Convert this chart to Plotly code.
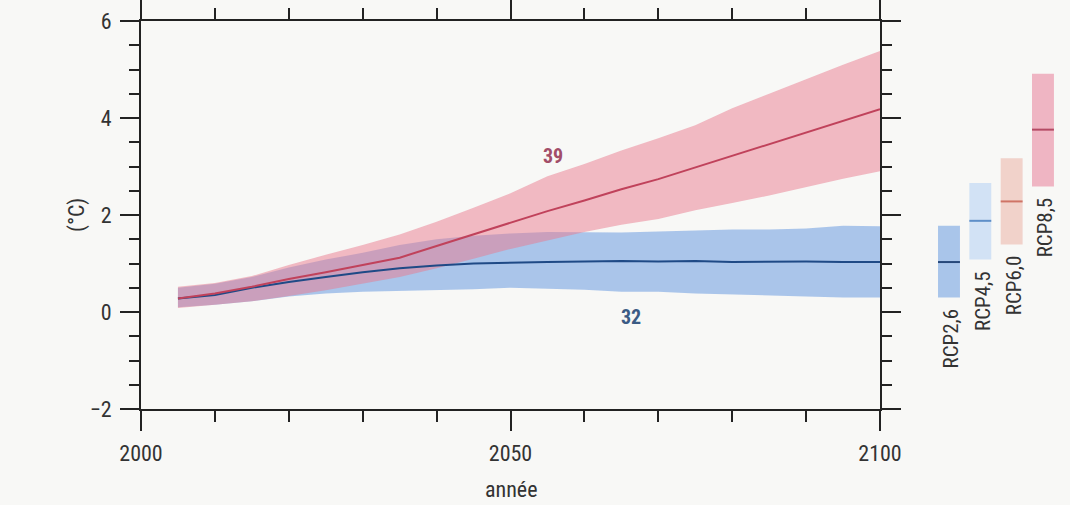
import plotly.graph_objects as go

# ---------------- data ----------------
years = [2005, 2010, 2015, 2020, 2025, 2030, 2035, 2040, 2045, 2050,
         2055, 2060, 2065, 2070, 2075, 2080, 2085, 2090, 2095, 2100]

rcp85_mean = [0.28, 0.38, 0.52, 0.68, 0.82, 0.97, 1.12, 1.36, 1.60, 1.85,
              2.08, 2.30, 2.53, 2.74, 2.98, 3.22, 3.46, 3.70, 3.94, 4.18]
rcp85_high = [0.52, 0.60, 0.74, 0.97, 1.18, 1.38, 1.60, 1.86, 2.15, 2.45,
              2.80, 3.05, 3.33, 3.58, 3.85, 4.20, 4.50, 4.80, 5.10, 5.38]
rcp85_low = [0.08, 0.15, 0.22, 0.33, 0.45, 0.58, 0.72, 0.90, 1.10, 1.30,
             1.48, 1.65, 1.80, 1.92, 2.10, 2.25, 2.40, 2.58, 2.75, 2.90]

rcp26_mean = [0.28, 0.35, 0.50, 0.62, 0.72, 0.82, 0.90, 0.96, 1.00, 1.02,
              1.03, 1.04, 1.05, 1.04, 1.05, 1.03, 1.04, 1.04, 1.03, 1.03]
rcp26_high = [0.50, 0.58, 0.72, 0.92, 1.08, 1.22, 1.38, 1.50, 1.57, 1.62,
              1.65, 1.65, 1.64, 1.66, 1.68, 1.70, 1.70, 1.72, 1.78, 1.77]
rcp26_low = [0.10, 0.15, 0.22, 0.32, 0.38, 0.42, 0.44, 0.45, 0.47, 0.50,
             0.48, 0.46, 0.42, 0.42, 0.38, 0.35, 0.34, 0.32, 0.30, 0.30]

# side bars: 2081-2100 ranges
scenarios = ["RCP2,6", "RCP4,5", "RCP6,0", "RCP8,5"]
bar_low = [0.30, 1.08, 1.39, 2.59]
bar_high = [1.78, 2.66, 3.17, 4.91]
bar_mean = [1.03, 1.88, 2.28, 3.76]

count_labels = ["39", "32"]
count_x = [2055.8, 2066.3]
count_y = [3.21, -0.11]

x_ticks = [2000, 2050, 2100]
y_ticks = [-2, 0, 2, 4, 6]

# ---------------- styles ----------------
FONT = "Liberation Sans Narrow, Roboto Condensed, Liberation Sans, Arial, sans-serif"
BG = "#f8f8f6"
AX = "#222222"
TXT = "#333333"
bar_fill = ["#a9c5ea", "#d2e2f5", "#f1d2ca", "#efb5c3"]
bar_line = ["#26487a", "#5f8fc8", "#cf7466", "#b44a64"]

W, H = 1070, 505
ML, MR, MT, MB = 141, 5, 21, 96
PW, PH = W - ML - MR, H - MT - MB

fig = go.Figure()

# RCP2.6 band
fig.add_trace(go.Scatter(
    x=years + years[::-1], y=rcp26_high + rcp26_low[::-1],
    fill="toself", fillcolor="rgba(118,164,226,0.60)",
    line=dict(width=0), mode="lines", hoverinfo="skip", showlegend=False))
# RCP8.5 band
fig.add_trace(go.Scatter(
    x=years + years[::-1], y=rcp85_high + rcp85_low[::-1],
    fill="toself", fillcolor="rgba(234,122,142,0.50)",
    line=dict(width=0), mode="lines", hoverinfo="skip", showlegend=False))
# mean lines
fig.add_trace(go.Scatter(x=years, y=rcp26_mean, mode="lines",
                         line=dict(color="#1f4a86", width=2), showlegend=False))
fig.add_trace(go.Scatter(x=years, y=rcp85_mean, mode="lines",
                         line=dict(color="#c0425b", width=2), showlegend=False))

# side bars
xpos = list(range(len(scenarios)))
fig.add_trace(go.Bar(
    x=xpos, y=[h - l for h, l in zip(bar_high, bar_low)], base=bar_low,
    width=0.7, marker=dict(color=bar_fill, line=dict(width=0)),
    xaxis="x2", yaxis="y2", showlegend=False))
for i in xpos:
    fig.add_trace(go.Scatter(
        x=[i - 0.35, i + 0.35], y=[bar_mean[i], bar_mean[i]], mode="lines",
        line=dict(color=bar_line[i], width=2), xaxis="x2", yaxis="y2",
        showlegend=False))

annotations = []
for i, s in enumerate(scenarios):
    annotations.append(dict(
        x=i, y=bar_low[i], xref="x2", yref="y2", text=s, textangle=-90,
        showarrow=False, xanchor="center", yanchor="top", yshift=-9, xshift=2,
        font=dict(family=FONT, size=21, color=TXT)))

count_colors = ["#a24d68", "#3b5b84"]
for t, xx, yy, c in zip(count_labels, count_x, count_y, count_colors):
    annotations.append(dict(x=xx, y=yy, xref="x", yref="y", text="<b>%s</b>" % t,
                            showarrow=False, font=dict(family=FONT, size=20, color=c)))

annotations.append(dict(x=(511 - ML) / PW, y=((H - MB) - 490) / PH, xref="paper", yref="paper",
                        yanchor="middle", text="année", showarrow=False,
                        xanchor="center", font=dict(family=FONT, size=22, color=TXT)))
annotations.append(dict(x=(77 - ML) / PW, y=((H - MB) - 215) / PH, xref="paper",
                        yref="paper", text="(°C)", textangle=-90, showarrow=False,
                        xanchor="center", yanchor="middle",
                        font=dict(family=FONT, size=22, color=TXT)))

main_w = (880 - ML) / PW

fig.update_layout(
    width=W, height=H,
    margin=dict(l=ML, r=MR, t=MT, b=MB, autoexpand=False),
    paper_bgcolor=BG, plot_bgcolor=BG,
    font=dict(family=FONT, size=22, color=TXT),
    showlegend=False,
    annotations=annotations,
    xaxis=dict(
        domain=[0, main_w], range=[2000, 2100], tickvals=x_ticks,
        ticks="outside", ticklen=20, tickwidth=2, tickcolor=AX,
        showline=True, linecolor=AX, linewidth=2, mirror="allticks",
        showgrid=False, zeroline=False, ticklabelstandoff=4, automargin=False,
        tickfont=dict(family=FONT, size=22, color=TXT),
        minor=dict(dtick=10, tick0=2000, ticks="outside", ticklen=11,
                   tickwidth=1.5, tickcolor=AX, showgrid=False),
    ),
    yaxis=dict(
        domain=[0, 1], range=[-2, 6], tickvals=y_ticks,
        ticks="outside", ticklen=19, tickwidth=2, tickcolor=AX,
        showline=True, linecolor=AX, linewidth=2, mirror="allticks",
        showgrid=False, zeroline=False, ticklabelstandoff=4, automargin=False,
        tickfont=dict(family=FONT, size=22, color=TXT),
        minor=dict(dtick=0.5, tick0=0, ticks="outside", ticklen=10,
                   tickwidth=1.5, tickcolor=AX, showgrid=False),
    ),
    xaxis2=dict(domain=[(930 - ML) / PW, 1.0], range=[-0.606, 3.703],
                visible=False, anchor="y2", automargin=False),
    yaxis2=dict(domain=[0, 1], range=[-2, 6], visible=False, anchor="x2",
                automargin=False),
)

fig.write_html("out.html")
